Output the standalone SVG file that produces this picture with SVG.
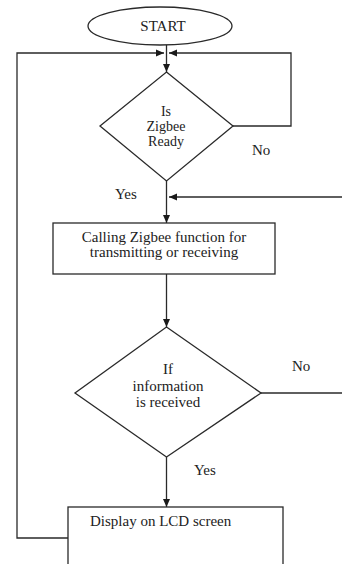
<svg xmlns="http://www.w3.org/2000/svg" width="342" height="564" viewBox="0 0 342 564">
<defs>
<style>
.s{fill:none;stroke:#2a2a2a;stroke-width:1.3}
.b{fill:#fff;stroke:#2a2a2a;stroke-width:1.3}
text{font-family:"Liberation Serif","Times New Roman",serif;font-size:15px;fill:#222}
.c{text-anchor:middle}
.d{font-size:14px}
</style>
<marker id="a" viewBox="0 0 8 8" refX="8" refY="4" markerWidth="8" markerHeight="8" markerUnits="userSpaceOnUse" orient="auto"><path d="M0,0.5 L8,4 L0,7.5 Z" fill="#1a1a1a"/></marker>
</defs>
<rect width="342" height="564" fill="#fff"/>
<g id="connectors">
<path class="s" d="M68,538 H17 V53 H164" marker-end="url(#a)"/>
<path class="s" d="M233,126 H291 V53 H169" marker-end="url(#a)"/>
<path class="s" d="M166.5,45 V72" marker-end="url(#a)"/>
<path class="s" d="M166.5,181 V223" marker-end="url(#a)"/>
<path class="s" d="M342,197 H169" marker-end="url(#a)"/>
<path class="s" d="M166.5,274 V327" marker-end="url(#a)"/>
<path class="s" d="M261,393 H342"/>
<path class="s" d="M166.5,457 V507" marker-end="url(#a)"/>
</g>
<g id="start">
<ellipse class="b" cx="160" cy="26" rx="72" ry="19"/>
<text class="c" x="163" y="31">START</text>
</g>
<g id="ready">
<path class="b" d="M166.5,72 L233,126 L166.5,181 L100,126 Z"/>
<text class="c d" x="166" y="116">Is</text>
<text class="c d" x="166" y="131">Zigbee</text>
<text class="c d" x="166" y="146">Ready</text>
</g>
<g id="labels">
<text x="252" y="155">No</text>
<text x="115" y="199">Yes</text>
<text x="292" y="371">No</text>
<text x="194" y="475">Yes</text>
</g>
<g id="calling">
<rect class="b" x="53" y="223" width="222" height="51"/>
<text class="c" x="164" y="242">Calling Zigbee function for</text>
<text class="c" x="164" y="257">transmitting or receiving</text>
</g>
<g id="received">
<path class="b" d="M166.5,327 L261,393 L166.5,457 L75,393 Z"/>
<text class="c" x="168" y="374">If</text>
<text class="c" x="168" y="391">information</text>
<text class="c" x="168" y="407">is received</text>
</g>
<g id="display">
<rect class="b" x="68" y="507" width="215" height="70"/>
<text x="90" y="526">Display on LCD screen</text>
</g>
</svg>
